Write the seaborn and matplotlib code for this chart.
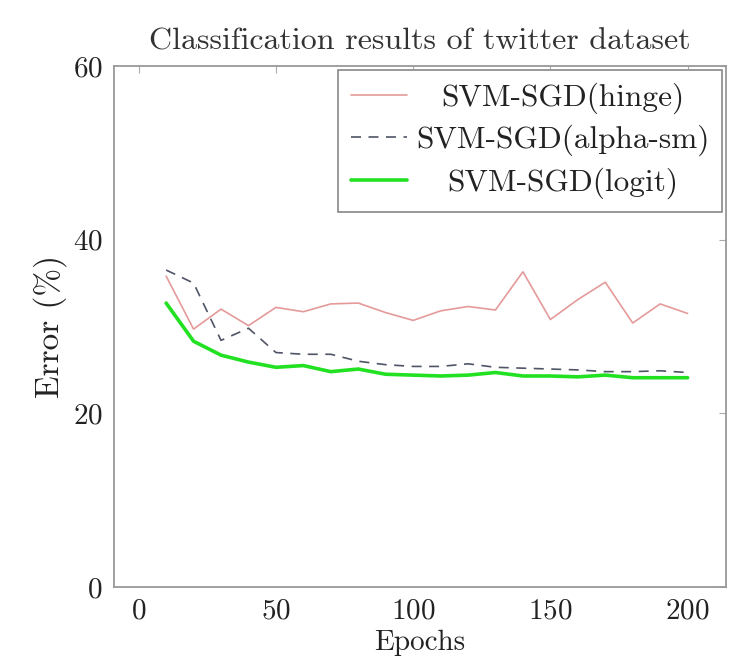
import pandas as pd
import matplotlib
matplotlib.use("Agg")
import matplotlib.pyplot as plt
import seaborn as sns

# values
epochs = [10, 20, 30, 40, 50, 60, 70, 80, 90, 100,
          110, 120, 130, 140, 150, 160, 170, 180, 190, 200]
hinge = [35.8, 29.7, 32.0, 30.1, 32.2, 31.7, 32.6, 32.7, 31.6, 30.7,
         31.8, 32.3, 31.9, 36.3, 30.8, 33.1, 35.1, 30.4, 32.6, 31.5]
alpha_sm = [36.5, 35.0, 28.4, 29.8, 27.0, 26.8, 26.8, 26.0, 25.6, 25.4,
            25.4, 25.7, 25.3, 25.2, 25.1, 25.0, 24.8, 24.8, 24.9, 24.7]
logit = [32.7, 28.3, 26.7, 25.9, 25.3, 25.5, 24.8, 25.1, 24.5, 24.4,
         24.3, 24.4, 24.7, 24.3, 24.3, 24.2, 24.4, 24.1, 24.1, 24.1]
labels = ["SVM-SGD(hinge)", "SVM-SGD(alpha-sm)", "SVM-SGD(logit)"]

sns.set_theme(style="white")
plt.rcParams["font.family"] = ["cmr10", "DejaVu Serif"]
plt.rcParams["axes.formatter.use_mathtext"] = True
plt.rcParams["mathtext.fontset"] = "cm"

fig = plt.figure(figsize=(7.33, 6.70), dpi=100)
ax = fig.add_axes([0.1555, 0.1239, 0.835, 0.7776])

sns.lineplot(x=epochs, y=hinge, ax=ax, color="#e59a9a", linewidth=1.2,
             label=labels[0])
sns.lineplot(x=epochs, y=alpha_sm, ax=ax, color="#4f5566", linewidth=1.2,
             linestyle=(0, (6, 4.5)), label=labels[1])
sns.lineplot(x=epochs, y=logit, ax=ax, color="#22e022", linewidth=2.6,
             label=labels[2])

ax.set_xlim(-9, 214)
ax.set_ylim(0, 60)
ax.set_xticks([0, 50, 100, 150, 200])
ax.set_yticks([0, 20, 40, 60])
ax.tick_params(direction="in", length=5, width=0.8, color="#aaaaaa",
               top=True, right=True, labelsize=21, labelcolor="#222222", pad=8)
for s in ax.spines.values():
    s.set_color("#999999")
    s.set_linewidth(1.3)

ax.set_title("Classification results of twitter dataset", fontsize=23,
             color="#333333", pad=12)
ax.set_xlabel("Epochs", fontsize=21, color="#222222", labelpad=4)
ax.set_ylabel("Error (%)", fontsize=24, color="#222222", labelpad=4)

leg = ax.legend(loc="upper right", fontsize=22.5, frameon=True, fancybox=False,
                edgecolor="#888888", framealpha=1, borderaxespad=0.12,
                handlelength=1.8, handletextpad=0.3, borderpad=0.4,
                labelspacing=0.36)
leg.get_frame().set_linewidth(1.2)
for t in leg.get_texts():
    t.set_color("#222222")

# pgfplots centres legend text: shift shorter labels to the middle
fig.canvas.draw()
widths = [t.get_window_extent().width for t in leg.get_texts()]
for t, w in zip(leg.get_texts(), widths):
    t.set_x((max(widths) - w) / 2)

fig.savefig("out.png", dpi=100)
